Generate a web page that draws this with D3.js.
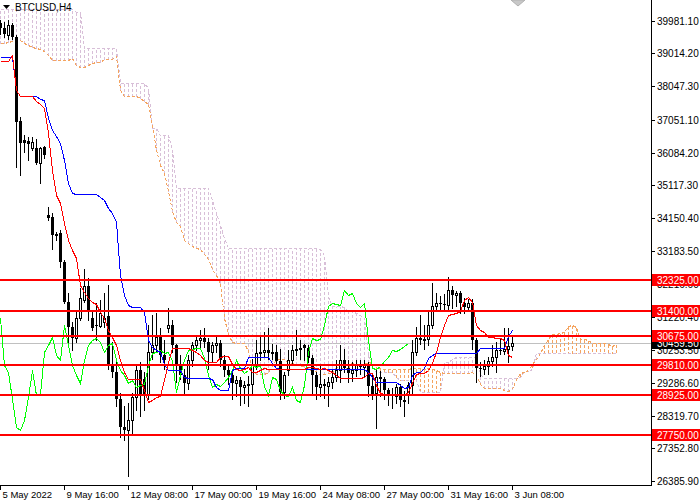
<!DOCTYPE html>
<html>
<head>
<meta charset="utf-8">
<script src="https://cdnjs.cloudflare.com/ajax/libs/d3/7.8.5/d3.min.js"></script>
<style>
  body { margin: 0; background: #ffffff; }
  svg { display: block; font-family: "Liberation Sans", Arial, sans-serif; font-size: 10px; }
  .crisp line, .crisp path, .crisp rect { shape-rendering: crispEdges; }
  .timeLabel { font-size: 9.5px; }
</style>
</head>
<body>
<svg id="chart" width="700" height="500"></svg>
<script>
"use strict";

// BTCUSD H4, bar 0 = 5 May 2022 00:00, bar 128 = 3 Jun 08:00
var opens = [39900,39750,39550,39850,39500,37020,36460,36440,36220,36210,
  35790,36240,34250,34175,33650,33700,32870,31690,30950,30600,
  31200,31740,32150,31200,30990,30960,31085,31250,29816,29600,
  28800,28000,27900,28200,28870,29670,29400,28950,30200,30400,
  30640,30110,30900,31000,30400,29816,29520,29280,29960,30410,
  30554,30610,30500,30200,30400,30470,29960,29670,29520,29290,
  29370,29160,29220,29250,29820,30170,30200,30250,30170,30200,
  29930,29020,29670,29960,30260,30300,30420,30320,30020,29520,
  29160,29250,29190,29310,29460,29670,29960,29730,29580,29670,
  29820,29760,29820,29200,29000,29450,29400,29080,28930,28900,
  29160,28780,28950,29225,30200,30610,30550,30580,31000,31560,
  31650,31620,31590,32030,31880,31940,31650,31530,31650,30550,
  29720,29700,29790,29930,30050,30260,30230,30290,30380];
var highs = [40000,39950,40000,39900,39560,37140,36600,36550,36550,36500,
  36260,36290,34490,34300,33750,33800,32920,31940,31100,31440,
  32090,32650,32380,31440,31650,31735,31940,32180,30500,29900,
  29000,28600,28700,29000,29800,29900,29600,31000,31300,31350,
  30900,30550,31500,31150,30450,30100,29700,30100,30500,30700,
  30850,30900,30600,30500,30650,30550,30100,29850,29650,29500,
  29450,29350,29500,30000,30550,30650,30800,30900,30450,30400,
  30300,29600,30260,30400,30850,30550,30450,30400,30100,29600,
  29830,29400,29450,29700,29950,30400,30300,29950,29900,29950,
  29950,29950,29900,29550,29700,29650,29450,29150,29150,29250,
  29250,29050,29300,30550,30950,31300,31000,31450,32250,31950,
  31850,31900,32400,32150,32000,32000,31800,31750,31750,30600,
  29900,29950,30050,30400,30500,30600,30900,30900,30700];
var lows = [39600,39500,39450,39450,35660,35430,36100,35870,36150,35760,
  35190,35930,34100,33240,33500,32720,31650,30400,30260,30500,
  31144,31680,31144,30850,30554,30937,30950,29700,29450,28600,
  27700,27600,26540,27750,28500,28300,28500,28800,30000,30200,
  29900,29700,30800,30200,29300,29400,28950,29100,29800,30250,
  30300,30350,29700,29900,30200,29800,29500,29250,28800,28900,
  28650,28700,28600,29000,29700,29950,30050,30000,30000,29850,
  28800,28850,29520,29850,30100,30000,29950,29900,29000,28800,
  28900,28850,28600,29150,29350,29300,29600,29300,29350,29500,
  29550,29450,28900,28800,27950,28900,28800,28650,28550,28700,
  28600,28300,28700,29000,30100,30450,30300,30400,30900,31400,
  31450,31450,31400,31500,31550,31350,31350,31400,30300,29300,
  29500,29550,29550,29800,29600,30150,30150,29900,30260];
var closes = [39750,39600,39850,39500,36990,36370,36370,36340,36410,35790,
  36210,36020,34150,33650,33680,32850,31690,30950,30600,31200,
  31790,32150,31440,30910,30960,31350,31200,29816,29600,28800,
  28000,27900,28200,28870,29670,28930,28950,30200,30400,30640,
  30110,29960,31000,30400,29816,29520,29280,29960,30410,30554,
  30610,30500,30200,30400,30470,29960,29670,29520,29290,29370,
  29160,29220,29250,29820,30170,30200,30250,30170,30200,29930,
  29020,29520,29960,30260,30300,30320,30320,30020,29520,29160,
  29250,29190,29310,29460,29670,29960,29730,29580,29670,29820,
  29760,29820,29200,28930,29450,29400,29080,28930,28900,29160,
  28780,28720,29225,30200,30610,30550,30580,31000,31560,31650,
  31620,31590,32030,31880,31940,31650,31530,31650,30550,29720,
  29700,29790,29930,30050,30260,30230,30290,30380,30459.5];

// Ichimoku lines
var tenkan = [38790,38790,38790,38970,37930,37760,37760,37760,37760,37610,
  37520,37400,36670,35570,34830,34600,34010,33510,33210,32970,
  32180,31970,31790,31680,31620,31380,31200,30850,30640,30410,
  29960,29610,29400,29400,29400,29400,29080,28720,28780,28870,
  28900,29370,29900,30320,30320,30320,30320,30320,30260,30200,
  30110,29960,29900,29900,29900,30050,30080,30080,29850,29700,
  29670,29700,29760,29610,29610,29670,29730,29700,29700,29700,
  29700,29700,29700,29700,29700,29700,29700,29760,29760,29730,
  29700,29730,29670,29610,29520,29430,29430,29430,29430,29430,
  29430,29460,29580,29580,29230,28990,28960,28960,28960,28960,
  28930,28930,29020,29290,29550,29580,29580,29670,29880,30200,
  30640,31000,31290,31320,31350,31410,31740,31820,31680,31000,
  30850,30790,30640,30640,30610,30610,30550,30110,30050];
var kijun = [38910,38910,38910,38910,37930,37760,37760,37760,37760,37760,
  37670,37640,37110,36750,36580,36370,35870,35190,34890,34860,
  34860,34860,34860,34860,34860,34780,34690,34450,34300,34040,
  32470,31880,31590,31530,31530,31530,31380,30550,30350,30260,
  30200,29850,29670,29670,29670,29670,29460,29430,29430,29430,
  29430,29430,29430,29400,29170,29080,29080,29080,29670,29730,
  29730,29730,30050,30050,30050,30050,30050,30050,29880,29730,
  29710,29710,29710,29710,29710,29710,29710,29710,29710,29710,
  29710,29710,29710,29710,29710,29710,29710,29710,29710,29710,
  29710,29710,29610,29460,29310,29310,29310,29310,29310,29310,
  29230,29140,29170,29520,29610,29610,29730,30020,30110,30170,
  30170,30170,30170,30170,30170,30170,30170,30170,30170,30170,
  30320,30320,30320,30320,30320,30320,30320,30670,30850];
// senkou spans, already shifted 26 bars ahead (index 0..154)
var spanA = [39325,39325,39354,39384,39384,39410,39325,39260,39200,39180,
  39150,39090,38970,38820,38820,38820,38820,38820,38880,38670,
  38610,38610,38670,38730,38760,38760,38850,38850,38850,38940,
  37930,37760,37760,37760,37760,37685,37595,37520,36890,36160,
  35705,35485,34940,34350,34050,33915,33520,33415,33325,33270,
  33240,33080,32945,32650,32470,32225,31215,30745,30495,30465,
  30465,30465,30230,29635,29565,29565,29550,29610,29785,29995,
  29995,29995,29890,29875,29845,29815,29770,29695,29665,29650,
  29535,29565,29580,29580,29760,29715,29700,29715,29905,29830,
  29830,29860,29890,29875,29790,29715,29705,29705,29705,29705,
  29705,29705,29705,29735,29735,29720,29705,29720,29690,29660,
  29615,29570,29570,29570,29570,29570,29570,29585,29595,29520,
  29270,29150,29135,29135,29135,29135,29080,29035,29095,29405,
  29580,29595,29655,29845,29995,30185,30405,30585,30730,30745,
  30760,30790,30955,30995,30925,30585,30585,30555,30480,30480,
  30465,30465,30435,30390,30450];
var spanB = [40325,40325,40325,40325,40325,40325,40325,40325,40325,40325,
  40325,40325,40325,40325,40325,40325,40325,40325,40325,40236,
  40236,39180,39180,39180,39180,39180,39180,39180,39180,39180,
  38140,38140,38140,38140,38140,38140,38140,37990,36810,36810,
  36600,36600,36600,36160,35040,35040,35040,35040,35040,35040,
  35040,35040,35040,34690,34300,33950,33565,33270,33270,33270,
  33270,33270,33270,33270,33270,33270,33270,33270,33270,33270,
  33270,33270,33270,33270,33270,33270,33270,33270,33270,33270,
  33245,33050,31840,31570,31545,31545,31520,31415,31415,31350,
  31300,31200,30170,29730,29595,29595,29595,29595,29595,29460,
  29360,29360,29360,29360,29360,29020,29020,29020,29020,29020,
  29020,29900,29900,30000,30050,30050,30050,30050,30050,30050,
  29550,29425,29425,29425,29425,29425,29425,29425,29425,29425,
  29450,29625,29625,29700,30175,30175,30175,30175,30175,30175,
  30175,30175,30175,30175,30175,30175,30175,30175,30175,30175,
  30175,30175,30175,30175,30175];

var levels = [32325, 31400, 30675, 29810, 28925, 27750];
var priceTicks = [39981.10, 39014.20, 38047.30, 37051.10, 36084.20, 35117.30, 34150.40,
  33183.50, 32216.60, 31220.40, 30253.50, 29286.60, 28319.70, 27352.80, 26385.90];
var timeTickBars = [0, 16, 32, 48, 64, 80, 96, 112, 128];
var timeLabels = ["5 May 2022", "9 May 16:00", "12 May 08:00", "17 May 00:00", "19 May 16:00",
  "24 May 08:00", "27 May 00:00", "31 May 16:00", "3 Jun 08:00"];
var lastPrice = 30459.5;
var chikouShift = 26;

var plotW = 651, plotH = 485;

var svg = d3.select("#chart");

var x = d3.scaleLinear().domain([0, plotW / 4]).range([0, plotW]);
var y = d3.scaleLinear().domain([27750, 32325]).range([435, 280]);

function px(i) { return Math.round(x(i)) + 0.5; }
function py(v) { return Math.round(y(v)) + 0.5; }

svg.append("defs").append("clipPath").attr("id", "plotClip")
    .append("rect").attr("x", 0).attr("y", 0).attr("width", plotW).attr("height", plotH);

var plot = svg.append("g").attr("class", "crisp").attr("clip-path", "url(#plotClip)");

// bid line
plot.append("line")
    .attr("x1", 0).attr("x2", plotW)
    .attr("y1", py(lastPrice)).attr("y2", py(lastPrice))
    .attr("stroke", "#c0c0c0").attr("stroke-width", 1);

// kumo histogram
var thistle = "#d8bfd8", sandy = "#f4a460";
plot.append("g").selectAll("line")
    .data(d3.range(spanA.length))
    .enter().append("line")
    .attr("x1", function(j) { return px(j); })
    .attr("x2", function(j) { return px(j); })
    .attr("y1", function(j) { return py(spanA[j]); })
    .attr("y2", function(j) { return py(spanB[j]); })
    .attr("stroke", function(j) { return spanA[j] >= spanB[j] ? sandy : thistle; })
    .attr("stroke-width", 1)
    .attr("stroke-dasharray", "3,2");

var lineGen = d3.line()
    .x(function(d, i) { return px(i); })
    .y(function(d) { return py(d); });

plot.append("path").datum(spanB).attr("d", lineGen)
    .attr("fill", "none").attr("stroke", thistle).attr("stroke-dasharray", "3,2");
plot.append("path").datum(spanA).attr("d", lineGen)
    .attr("fill", "none").attr("stroke", sandy).attr("stroke-dasharray", "3,2");

// candles
var candles = plot.append("g");
var idx = d3.range(closes.length);

candles.selectAll("line.wick")
    .data(idx).enter().append("line")
    .attr("class", "wick")
    .attr("x1", function(i) { return px(i); })
    .attr("x2", function(i) { return px(i); })
    .attr("y1", function(i) { return Math.round(y(highs[i])); })
    .attr("y2", function(i) { return Math.round(y(lows[i])) + 1; })
    .attr("stroke", "#000");

candles.selectAll("rect.body")
    .data(idx).enter().append("rect")
    .attr("class", "body")
    .each(function(i) {
        var top = Math.round(y(Math.max(opens[i], closes[i])));
        var bot = Math.round(y(Math.min(opens[i], closes[i])));
        var cx = Math.round(x(i));
        var r = d3.select(this);
        if (closes[i] >= opens[i]) {
            r.attr("x", cx - 0.5).attr("y", top + 0.5)
             .attr("width", 2).attr("height", Math.max(bot - top, 1))
             .attr("fill", "#fff").attr("stroke", "#000");
        } else {
            r.attr("x", cx - 1).attr("y", top)
             .attr("width", 3).attr("height", Math.max(bot - top, 1))
             .attr("fill", "#000");
        }
    });

// chikou, tenkan, kijun
plot.append("path").datum(closes.slice(chikouShift)).attr("d", lineGen)
    .attr("fill", "none").attr("stroke", "#00ff00");
plot.append("path").datum(kijun).attr("d", lineGen)
    .attr("fill", "none").attr("stroke", "#0000ff");
plot.append("path").datum(tenkan).attr("d", lineGen)
    .attr("fill", "none").attr("stroke", "#ff0000");

// horizontal levels
plot.append("g").selectAll("line")
    .data(levels).enter().append("line")
    .attr("x1", 0).attr("x2", plotW)
    .attr("y1", function(d) { return Math.round(y(d)); })
    .attr("y2", function(d) { return Math.round(y(d)); })
    .attr("stroke", "#ff0000").attr("stroke-width", 2);

// chart shift marker
svg.append("path").attr("d", "M511,0 L525,0 L518,6 Z")
    .attr("fill", "#c8c8c8").attr("stroke", "#b0b0b0");

// axes frame
var frame = svg.append("g").attr("class", "crisp");
frame.append("line").attr("x1", plotW + 0.5).attr("x2", plotW + 0.5)
    .attr("y1", 0).attr("y2", plotH + 1).attr("stroke", "#000");
frame.append("line").attr("x1", 0).attr("x2", plotW + 1)
    .attr("y1", plotH + 0.5).attr("y2", plotH + 0.5).attr("stroke", "#000");

// price axis
var pAxis = svg.append("g").attr("class", "crisp");
pAxis.selectAll("line").data(priceTicks).enter().append("line")
    .attr("x1", plotW).attr("x2", plotW + 4)
    .attr("y1", function(d) { return py(d); })
    .attr("y2", function(d) { return py(d); })
    .attr("stroke", "#000");
pAxis.selectAll("text").data(priceTicks).enter().append("text")
    .attr("x", plotW + 6)
    .attr("y", function(d) { return Math.round(y(d)) + 4; })
    .attr("fill", "#000")
    .text(function(d) { return d3.format(".2f")(d); });

// current price box
pAxis.append("rect").attr("x", plotW + 1).attr("y", Math.round(y(lastPrice)) - 6)
    .attr("width", 700 - plotW).attr("height", 12).attr("fill", "#000");
pAxis.append("text").attr("x", plotW + 6).attr("y", Math.round(y(lastPrice)) + 4)
    .attr("fill", "#fff").text(d3.format(".2f")(lastPrice));

// level labels
var lvl = svg.append("g").attr("class", "crisp");
lvl.selectAll("rect").data(levels).enter().append("rect")
    .attr("x", plotW + 1)
    .attr("y", function(d) { return Math.round(y(d)) - 6; })
    .attr("width", 700 - plotW).attr("height", 12)
    .attr("fill", "#ff0000");
lvl.selectAll("text").data(levels).enter().append("text")
    .attr("x", plotW + 6)
    .attr("y", function(d) { return Math.round(y(d)) + 4; })
    .attr("fill", "#fff")
    .text(function(d) { return d3.format(".2f")(d); });

// time axis
var tAxis = svg.append("g").attr("class", "crisp");
tAxis.selectAll("line").data(timeTickBars).enter().append("line")
    .attr("x1", function(d) { return px(d); })
    .attr("x2", function(d) { return px(d); })
    .attr("y1", plotH).attr("y2", plotH + 5)
    .attr("stroke", "#000");
tAxis.selectAll("text").data(timeTickBars).enter().append("text")
    .attr("class", "timeLabel")
    .attr("x", function(d) { return px(d) + 2; })
    .attr("y", plotH + 13)
    .attr("fill", "#000")
    .text(function(d, i) { return timeLabels[i]; });

// symbol title
svg.append("path").attr("d", "M3,5 L10,5 L6.5,9 Z").attr("fill", "#000");
svg.append("text").attr("x", 15).attr("y", 11).attr("fill", "#000").text("BTCUSD,H4");
</script>
</body>
</html>
